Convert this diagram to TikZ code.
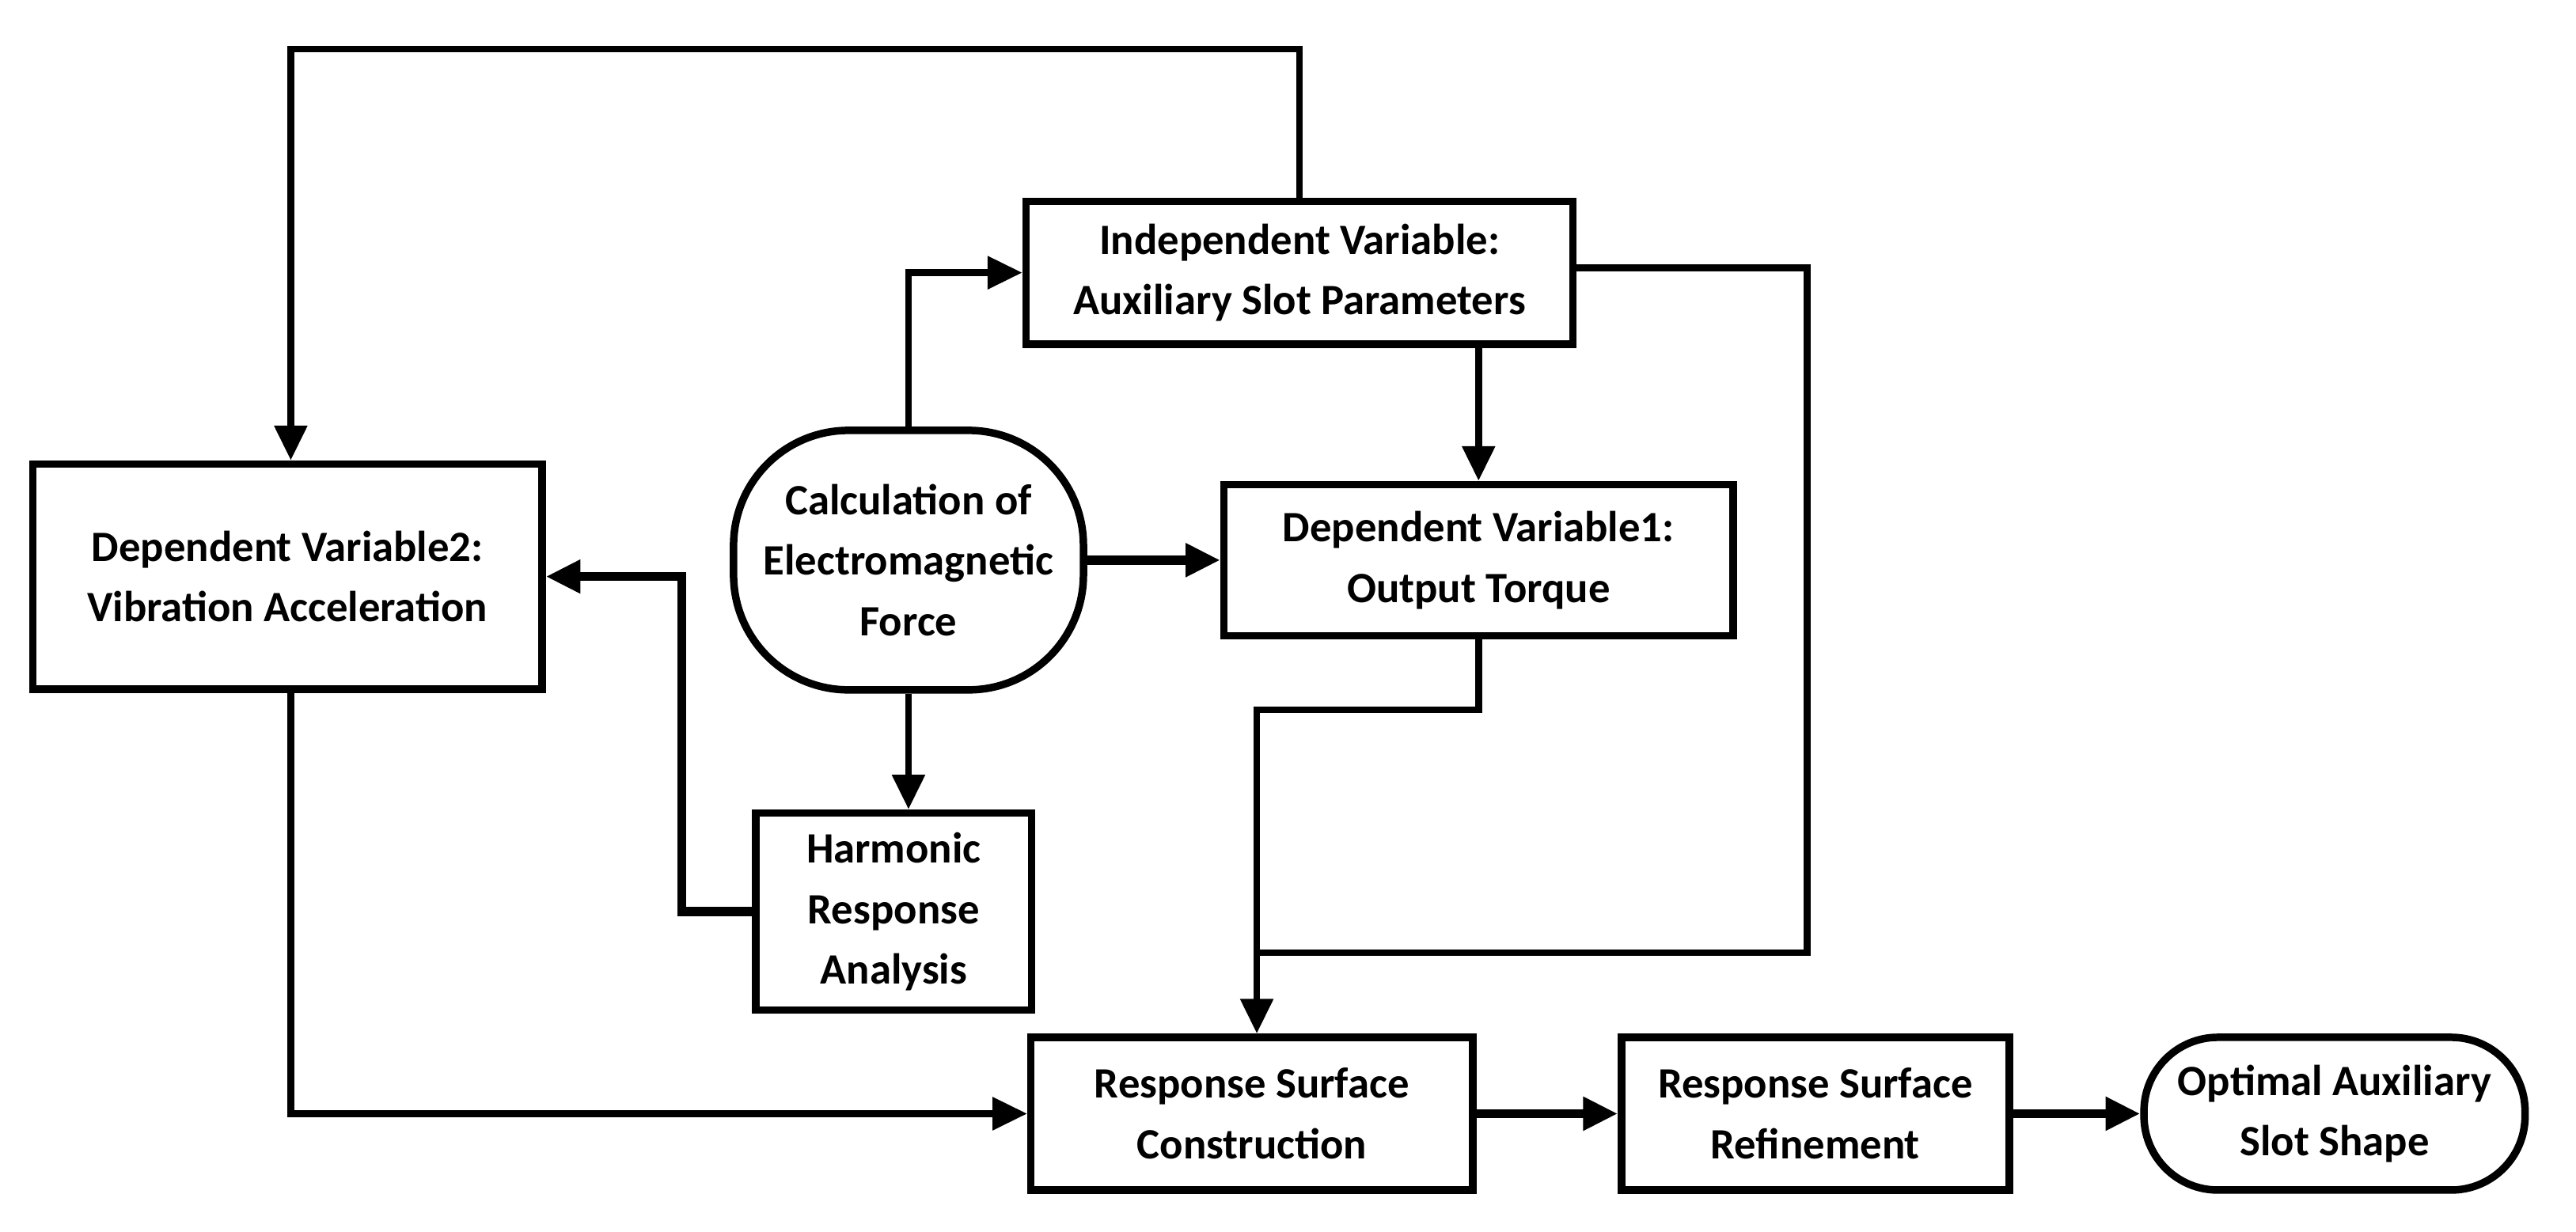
\documentclass[tikz,border=0pt]{standalone}
\usepackage{fontspec}
\setmainfont{Carlito}
\usetikzlibrary{arrows.meta}
\begin{document}
\begin{tikzpicture}[x=0.02cm,y=-0.02cm,
  box/.style={draw,line width=2.6pt,align=center,inner sep=0pt,font=\bfseries\fontsize{15}{21}\selectfont},
  ar/.style={line width=2.3pt,-{Triangle[length=12pt,width=11pt]}},
  thk/.style={line width=3.2pt},
  ln/.style={line width=2.3pt}]
\useasboundingbox (0,0) rectangle (1568,750);
\node[box,minimum width=6.66cm,minimum height=1.74cm] (ind) at (791,166) {Independent Variable:\\Auxiliary Slot Parameters};
\node[box,minimum width=6.2cm,minimum height=2.74cm] (dep2) at (175,351) {Dependent Variable2:\\Vibration Acceleration};
\node[box,minimum width=4.26cm,minimum height=3.16cm,rounded corners=1.4cm] (calc) at (553,341) {Calculation of\\Electromagnetic\\Force};
\node[box,minimum width=6.2cm,minimum height=1.84cm] (dep1) at (900,341) {Dependent Variable1:\\Output Torque};
\node[box,minimum width=3.36cm,minimum height=2.4cm] (har) at (544,555) {Harmonic\\Response\\Analysis};
\node[box,minimum width=5.38cm,minimum height=1.86cm] (rsc) at (762,678) {Response Surface\\Construction};
\node[box,minimum width=4.72cm,minimum height=1.86cm] (rsr) at (1105,678) {Response Surface\\Refinement};
\node[box,minimum width=4.64cm,minimum height=1.86cm,rounded corners=0.9cm] (opt) at (1421,678) {Optimal Auxiliary\\Slot Shape};
\coordinate (j) at (765,580);
\draw[ar] (ind.north) -- (791,30) -| (dep2.north -| 177,0);
\draw[ar] (calc.north) |- (ind.west);
\draw[ln] (ind.east |- 0,163) -| (1100,580) -- (j);
\draw[ar] (ind.south -| dep1.north) -- (dep1.north);
\draw[ar,thk] (calc.east) -- (dep1.west);
\draw[ar] (dep1.south) -- (900,432) -| (rsc.north -| j);
\draw[ar] (calc.south) -- (calc.south |- har.north);
\draw[ar,thk] (har.west) -| (415,351) -- (dep2.east);
\draw[ar] (dep2.south -| 177,0) |- (rsc.west);
\draw[ar,thk] (rsc) -- (rsr);
\draw[ar,thk] (rsr) -- (opt);
\end{tikzpicture}
\end{document}
